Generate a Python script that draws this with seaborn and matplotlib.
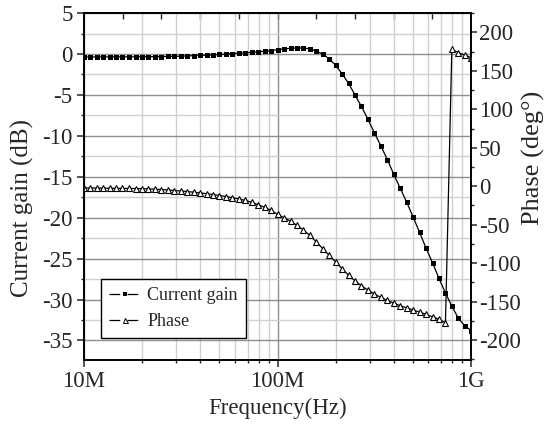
#Current gain and phase vs frequency (Bode style, twin y axes)
import numpy as np
import pandas as pd
import matplotlib
matplotlib.use("Agg")
import matplotlib.pyplot as plt
import seaborn as sns
from matplotlib.lines import Line2D
from matplotlib.ticker import FixedLocator, MultipleLocator, LogLocator, NullFormatter

#sweep points (MHz)
freq_mhz = [10.0, 10.8, 11.7, 12.6, 13.6, 14.7, 15.8, 17.1, 18.5, 20.0,
            21.5, 23.3, 25.1, 27.1, 29.3, 31.6, 34.1, 36.9, 39.8, 43.0,
            46.4, 50.1, 54.1, 58.4, 63.1, 68.1, 73.6, 79.4, 85.8, 92.6,
            100, 108, 117, 126, 136, 147, 158, 171, 185, 200,
            215, 233, 251, 271, 293, 316, 341, 369, 398, 430,
            464, 501, 541, 584, 631, 681, 736, 794, 858, 926,
            1000]

gain_db = [-0.36, -0.36, -0.36, -0.36, -0.35, -0.35, -0.35, -0.34, -0.34, -0.33,
           -0.33, -0.32, -0.31, -0.30, -0.28, -0.26, -0.23, -0.20, -0.17, -0.13,
           -0.09, -0.05, 0.00, 0.05, 0.10, 0.15, 0.20, 0.27, 0.34, 0.42,
           0.52, 0.62, 0.70, 0.75, 0.74, 0.62, 0.38, -0.02, -0.60, -1.40,
           -2.40, -3.60, -5.00, -6.40, -8.00, -9.60, -11.2, -12.9, -14.7, -16.4,
           -18.1, -19.9, -21.8, -23.7, -25.5, -27.4, -29.2, -30.8, -32.3, -33.2,
           -33.8]

phase_deg = [-2.2, -2.3, -2.4, -2.5, -2.6, -2.7, -2.8, -2.9, -3.0, -3.2,
             -3.5, -3.9, -4.3, -4.9, -5.6, -6.2, -6.9, -7.8, -8.7, -9.7,
             -10.8, -12.1, -13.4, -14.9, -16.5, -18.5, -21.0, -24.0, -27.5, -31.5,
             -36.5, -41.0, -45.5, -51.0, -57.0, -64.0, -72.0, -81.0, -90.0, -98.7,
             -107, -116, -123, -129.5, -135, -140, -144.6, -148.5, -152, -155.4,
             -158, -161, -163.6, -166.6, -169.7, -173, -177.5, 178, 173.6, 170.5,
             167]

xtick_vals = [1e7, 1e8, 1e9]
xtick_labels = ["10M", "100M", "1G"]

df = pd.DataFrame({"freq": np.array(freq_mhz) * 1e6, "gain": gain_db, "phase": phase_deg})

sns.set_style("ticks")
plt.rcParams["font.family"] = ["Liberation Serif", "DejaVu Serif"]
plt.rcParams["axes.unicode_minus"] = False

fig = plt.figure(figsize=(5.59, 4.37), dpi=100)
ax = fig.add_axes([0.150, 0.176, 0.693, 0.794])
ax2 = ax.twinx()

#grid (left axis only)
ax.set_axisbelow(True)
ax.grid(which="major", color="#8e8e8e", lw=1.0)
ax.grid(which="minor", color="#d0d0d0", lw=1.0)

sns.lineplot(data=df, x="freq", y="gain", ax=ax, color="black", lw=0.9,
             marker="s", markersize=3.6, markeredgewidth=0, legend=False)
sns.lineplot(data=df, x="freq", y="phase", ax=ax2, color="black", lw=0.9,
             marker="^", markersize=4.8, markerfacecolor="white",
             markeredgecolor="black", markeredgewidth=0.8, legend=False)

ax.set_xscale("log")
ax.set_xlim(1e7, 1e9)
ax.set_ylim(-37.4, 5)
ax2.set_ylim(-226, 225)

ax.set_xticks(xtick_vals)
ax.set_xticklabels(xtick_labels)
ax.xaxis.set_minor_locator(LogLocator(base=10, subs=np.arange(2, 10)))
ax.xaxis.set_minor_formatter(NullFormatter())
ax.yaxis.set_major_locator(MultipleLocator(5))
ax.yaxis.set_minor_locator(MultipleLocator(2.5))
ax2.yaxis.set_major_locator(MultipleLocator(50))
ax2.yaxis.set_minor_locator(MultipleLocator(25))

ax.tick_params(which="major", direction="out", length=5, width=1.1, labelsize=16.5,
               top=False, right=False, pad=3)
ax.tick_params(which="minor", direction="out", length=2.5, width=1.0,
               top=False, right=False)
ax2.tick_params(which="major", direction="out", length=4, width=1.1, labelsize=16.5, pad=1.5)
ax2.tick_params(which="minor", direction="out", length=2.5, width=1.0)

#top axis: inward ticks every 0.2 decade
top = ax.secondary_xaxis("top")
top.xaxis.set_major_locator(FixedLocator([10 ** (7 + 0.2 * k) for k in range(1, 10)]))
top.xaxis.set_minor_locator(FixedLocator([]))
top.tick_params(which="major", direction="in", length=4, width=1.0, labeltop=False)

for a in (ax, ax2):
    for s in a.spines.values():
        s.set_linewidth(1.2)
        s.set_color("black")
top.spines["top"].set_linewidth(1.2)

ax.set_xlabel("Frequency(Hz)", fontsize=16.5, labelpad=4)
ax.set_ylabel("Current gain (dB)", fontsize=18)
ax.yaxis.set_label_coords(-0.129, 0.438)
ax2.set_ylabel("Phase (deg°)", fontsize=19)
ax2.yaxis.set_label_coords(1.13, 0.584)

h1 = Line2D([], [], color="black", lw=0.9, dashes=(8.6, 5.8), marker="s",
            markersize=3.2, markeredgewidth=0)
h2 = Line2D([], [], color="black", lw=0.9, dashes=(8.6, 5.8), marker="^",
            markersize=3.6, markerfacecolor="white", markeredgecolor="black",
            markeredgewidth=0.7)
leg = ax.legend([h1, h2], ["Current gain", "Phase"], loc="lower left",
                bbox_to_anchor=(0.044, 0.063), borderaxespad=0, fontsize=13,
                handlelength=1.77, handletextpad=0.35, labelspacing=0.5,
                fancybox=False, framealpha=1, edgecolor="black", borderpad=0.45)
leg.get_frame().set_linewidth(1.0)
leg.set_zorder(5)

fig.savefig("out.png", dpi=100)
plt.close()
